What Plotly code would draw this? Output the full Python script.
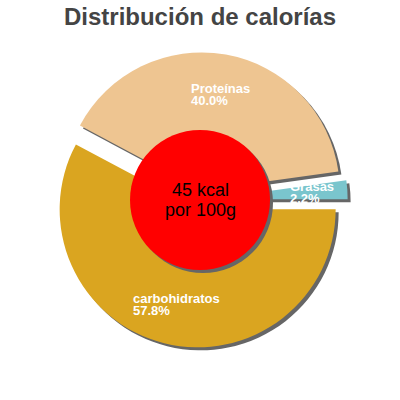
import math
import plotly.graph_objects as go

# data
labels = ["carbohidratos", "Proteínas", "Grasas"]
values = [57.8, 40.0, 2.2]
colors = ["#DAA520", "#EEC591", "#7AC5CD"]
center_lines = ["45 kcal", "por 100g"]
title_text = "Distribución de calorías"

W = H = 400
cx, cy = 200, 200          # pie centre in px
R = 138                    # pie radius in px
PULL = 0.07                # every slice pulled out a bit
SHADOW = 3                 # shadow offset in px
HOLE_R = 70                # red circle radius in px
FONT = "Liberation Sans, Arial, sans-serif"
LBL_SIZE = 13

half = R * (1 + PULL)


def px_x(s):
    return s / W


def px_y(s):
    return 1 - s / H


def dom(dx=0, dy=0):
    return dict(x=[px_x(cx - half + dx), px_x(cx + half + dx)],
                y=[px_y(cy + half + dy), px_y(cy - half + dy)])


fig = go.Figure()

# shadow pie
fig.add_trace(go.Pie(
    labels=labels, values=values, sort=False, direction="clockwise",
    rotation=90, pull=PULL, textinfo="none", hoverinfo="skip",
    marker=dict(colors=["#666666"] * len(values), line=dict(width=0)),
    domain=dom(SHADOW, SHADOW), showlegend=False,
))

# main pie
fig.add_trace(go.Pie(
    labels=labels, values=values, sort=False, direction="clockwise",
    rotation=90, pull=PULL, textinfo="none", hoverinfo="label+percent",
    marker=dict(colors=colors, line=dict(width=0)),
    domain=dom(), showlegend=False,
))

# slice labels, placed along each slice's bisector, two left-aligned lines
total = sum(values)
cum = 0
for name, v in zip(labels, values):
    mid = math.radians((cum + v / 2) / total * 360)
    cum += v
    d = PULL * R + 98
    px = cx + d * math.cos(mid)
    py = cy + d * math.sin(mid)
    left = px - len(name) * 0.51 * LBL_SIZE / 2
    for j, t in enumerate([name, f"{v / total * 100:.1f}%"]):
        fig.add_annotation(
            x=px_x(left), y=px_y(py - 6 + 12 * j), xref="paper", yref="paper",
            text=t, showarrow=False, xanchor="left", yanchor="middle",
            font=dict(family=FONT, size=LBL_SIZE, color="white", weight="bold"),
        )

# red centre circle with shadow
for off, col in [(SHADOW, "#666666"), (0, "#FF0000")]:
    fig.add_shape(
        type="circle", xref="paper", yref="paper", layer="above",
        x0=px_x(cx - HOLE_R + off), x1=px_x(cx + HOLE_R + off),
        y0=px_y(cy + HOLE_R + off), y1=px_y(cy - HOLE_R + off),
        fillcolor=col, line=dict(width=0),
    )

for i, line in enumerate(center_lines):
    fig.add_annotation(
        x=px_x(cx), y=px_y(cy - 10 + 20 * i), xref="paper", yref="paper",
        text=line, showarrow=False, xanchor="center", yanchor="middle",
        font=dict(family=FONT, size=18, color="black"),
    )

fig.update_layout(
    width=W, height=H,
    margin=dict(l=0, r=0, t=0, b=0),
    paper_bgcolor="white", plot_bgcolor="white",
    title=dict(text=title_text, x=0.5, xanchor="center",
               y=px_y(17), yanchor="middle",
               font=dict(family=FONT, size=24, color="#444444", weight="bold")),
)

# drop the default 8px body margin so the figure fills the window
fig.write_html("out.html", config={"displayModeBar": False},
               post_script="document.body.style.margin='0';")
